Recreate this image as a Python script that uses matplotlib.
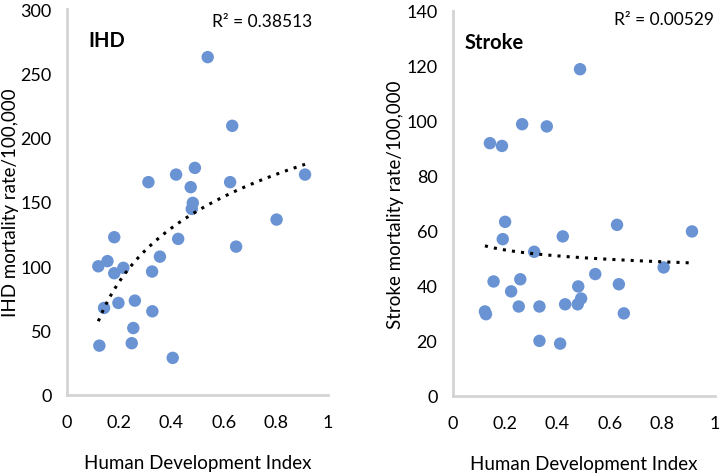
import matplotlib
matplotlib.use('Agg')
import matplotlib.pyplot as plt
import numpy as np

# HDI vs IHD mortality
hdi_ihd = [0.12, 0.155, 0.181, 0.181, 0.216, 0.142, 0.197, 0.26, 0.254, 0.248,
           0.124, 0.326, 0.356, 0.327, 0.426, 0.405, 0.648, 0.539, 0.633, 0.312,
           0.418, 0.49, 0.474, 0.482, 0.478, 0.625, 0.912, 0.803]
ihd = [100, 104, 122.6, 94.6, 98.8, 67.6, 71.5, 73.3, 52, 40.2,
       38.3, 95.9, 107.5, 65, 121.3, 28.8, 115.3, 262.6, 209.2, 165.4,
       171.3, 176.5, 161.5, 149.3, 144.6, 165.4, 171.3, 136.3]

# HDI vs stroke mortality
hdi_stroke = [0.486, 0.265, 0.359, 0.142, 0.188, 0.2, 0.627, 0.913, 0.191, 0.42,
              0.311, 0.805, 0.544, 0.156, 0.258, 0.223, 0.479, 0.634, 0.123, 0.127,
              0.252, 0.331, 0.429, 0.477, 0.49, 0.653, 0.331, 0.41]
stroke = [118.8, 98.8, 98, 91.9, 90.9, 63.3, 62.2, 59.8, 57, 58,
          52.4, 46.7, 44.3, 41.6, 42.4, 38, 39.8, 40.6, 30.7, 29.7,
          32.5, 32.5, 33.3, 33.3, 35.4, 30, 20, 19]

plt.rcParams['font.family'] = ['Lato', 'DejaVu Sans']

fig = plt.figure(figsize=(7.22, 4.77), dpi=100)
ax1 = fig.add_axes([0.0928, 0.170, 0.3615, 0.809])
ax2 = fig.add_axes([0.627, 0.168, 0.363, 0.807])

panels = [
    (ax1, hdi_ihd, ihd, 300, 50, 'IHD', 'IHD mortality rate/100,000', 'R² = 0.38513', (0.08, 0.92), (0.94, 0.969)),
    (ax2, hdi_stroke, stroke, 140, 20, 'Stroke', 'Stroke mortality rate/100,000', 'R² = 0.00529', (0.047, 0.919), (0.996, 0.978)),
]

for ax, x, y, ymax, ystep, name, ylab, r2, npos, rpos in panels:
    x = np.array(x); y = np.array(y)
    ax.scatter(x, y, s=80, color='#6a93d4', edgecolors='none', zorder=3)
    # logarithmic trendline
    a, b = np.polyfit(np.log(x), y, 1)
    xt = np.linspace(x.min(), x.max(), 200)
    ax.plot(xt, a*np.log(xt) + b, color='black', linestyle=(0, (1, 2)), linewidth=2.2, zorder=4)
    ax.set_xlim(0, 1)
    ax.set_ylim(0, ymax)
    ax.set_xticks([0, 0.2, 0.4, 0.6, 0.8, 1])
    ax.set_xticklabels(['0', '0.2', '0.4', '0.6', '0.8', '1'])
    ax.set_yticks(np.arange(0, ymax + 1, ystep))
    ax.tick_params(axis='y', length=0, labelsize=13, pad=11)
    ax.tick_params(axis='x', length=0, labelsize=13, pad=14)
    for s in ['top', 'right']:
        ax.spines[s].set_visible(False)
    for s in ['left', 'bottom']:
        ax.spines[s].set_color('#d4d4d4')
        ax.spines[s].set_linewidth(2)
    ax.set_xlabel('Human Development Index', fontsize=13.5, labelpad=17)
    ax.set_ylabel(ylab, fontsize=13.5)
    ax.yaxis.set_label_coords(-0.185, 0.5)
    ax.text(npos[0], npos[1], name, transform=ax.transAxes, fontsize=14.5, fontweight='bold', va='center')
    ax.text(rpos[0], rpos[1], r2, transform=ax.transAxes, fontsize=12.5, ha='right', va='center')

fig.savefig('out.png', dpi=100)
